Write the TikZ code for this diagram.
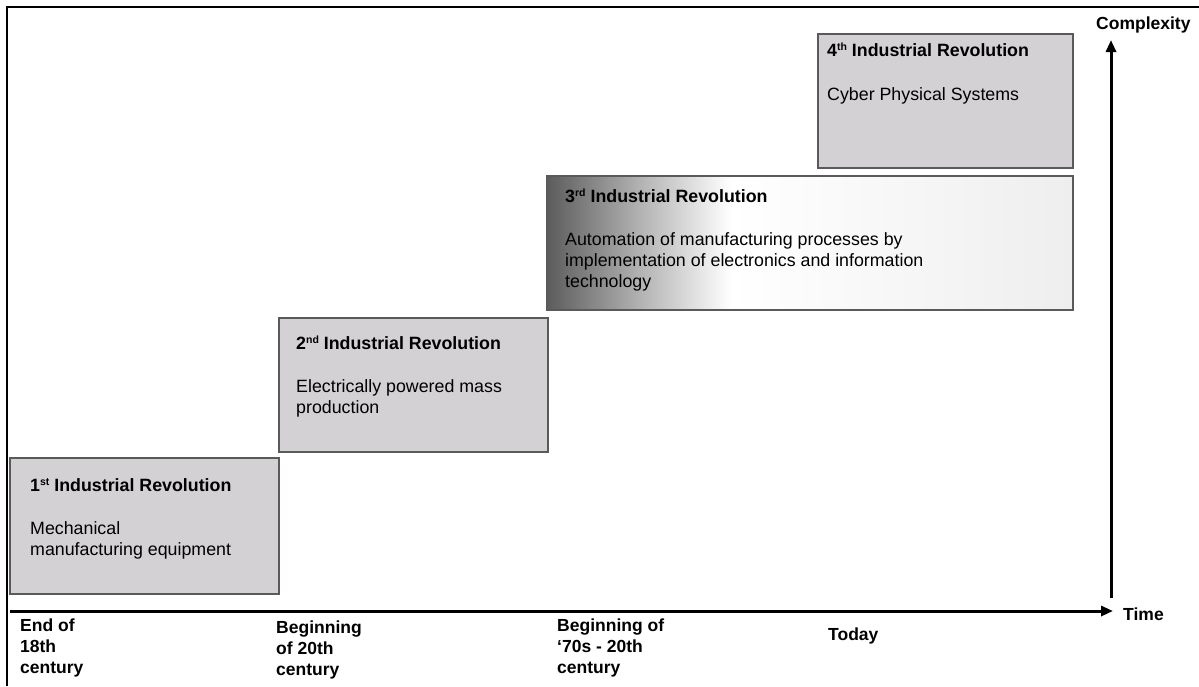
\documentclass[tikz,border=0pt]{standalone}
\usepackage{fontspec}
\setmainfont{Liberation Sans}
\usetikzlibrary{arrows.meta}
\definecolor{boxfill}{HTML}{D3D1D3}
\definecolor{boxline}{HTML}{5A5A5A}
\definecolor{sdark}{HTML}{5C5C5C}
\definecolor{smid}{HTML}{B4B4B4}
\definecolor{slight}{HTML}{EEEEEE}
\pgfdeclarehorizontalshading{boxthree}{100bp}{color(0bp)=(sdark); color(25bp)=(sdark); color(34bp)=(smid); color(42.5bp)=(white); color(75bp)=(slight); color(100bp)=(slight)}
\newcommand{\myss}[1]{\raisebox{0.55ex}{\fontsize{10.5}{10}\selectfont #1}}
\tikzset{
  box/.style={draw=boxline, line width=1.5pt, fill=boxfill, anchor=north west, inner sep=0pt, outer sep=0pt},
  ttl/.style={anchor=base west, inner sep=0pt, font=\fontsize{17.8}{21}\selectfont\bfseries},
  body/.style={anchor=base west, inner sep=0pt, align=left, font=\fontsize{17.8}{21}\selectfont},
  lbl/.style={anchor=base west, inner sep=0pt, align=left, font=\fontsize{17.5}{21}\selectfont\bfseries},
  axis/.style={line width=3pt, -{Triangle[length=12pt,width=10pt]}},
  frame/.style={line width=2pt}
}
\begin{document}
\begin{tikzpicture}[x=1pt,y=-1pt]
\useasboundingbox (0,0) rectangle (1199,686);
\fill[white] (0,0) rectangle (1199,686);
\draw[frame] (7,686) -- (7,7) -- (1199,7);

% boxes
\node[box, minimum width=269pt, minimum height=136pt] (b1) at (10,458) {};
\node[box, minimum width=269pt, minimum height=134pt] (b2) at (279,318) {};
\node[box, shading=boxthree, minimum width=526pt, minimum height=134pt] (b3) at (547,176) {};
\node[box, minimum width=255pt, minimum height=134pt] (b4) at (818,34) {};

% box texts (multi-line nodes: base = last line's baseline)
\node[ttl] (t1) at (30,491) {1\myss{st} Industrial Revolution};
\node[body] (d1) at (30,555) {Mechanical\\manufacturing equipment};
\node[ttl] (t2) at (296,349) {2\myss{nd} Industrial Revolution};
\node[body] (d2) at (296,413) {Electrically powered mass\\production};
\node[ttl] (t3) at (565,202) {3\myss{rd} Industrial Revolution};
\node[body] (d3) at (565,287) {Automation of manufacturing processes by\\implementation of electronics and information\\technology};
\node[ttl] (t4) at (827,56) {4\myss{th} Industrial Revolution};
\node[body] (d4) at (827,100) {Cyber Physical Systems};

% axes
\coordinate (xo) at (10,611);
\coordinate (xe) at (1113,611);
\coordinate (yo) at (1111,598);
\coordinate (ye) at (1111,40);
\draw[axis] (xo) -- (xe);
\draw[axis] (yo) -- (ye);
\node[lbl] (time) at (1123,620) {Time};
\node[lbl] (cx) at (1096,29) {Complexity};

% time labels
\node[lbl] (l1) at (20,673) {End of\\18th\\century};
\node[lbl] (l2) at (276,675) {Beginning\\of 20th\\century};
\node[lbl] (l3) at (557,673) {Beginning of\\‘70s - 20th\\century};
\node[lbl] (l4) at (828,640) {Today};
\end{tikzpicture}
\end{document}
